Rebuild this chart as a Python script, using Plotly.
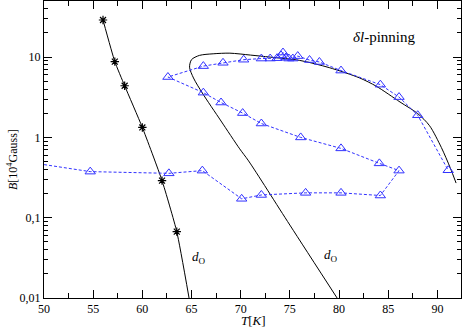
import plotly.graph_objects as go

# star series (d_O, measured) and its fitted line
star_T = [56.0, 57.2, 58.2, 60.0, 62.0, 63.5]
star_B = [29.0, 8.8, 4.4, 1.33, 0.29, 0.067]
star_line_T = [56.0, 57.2, 58.2, 60.0, 62.0, 63.5, 64.75]
star_line_B = [29.0, 8.8, 4.4, 1.33, 0.29, 0.067, 0.01]

# black loop curve (d_O)
loop_T = [79.8, 75.0, 70.8, 69.9, 68.0, 66.1, 65.2, 64.8, 65.0, 65.8, 67.2, 68.9,
          71.0, 73.0, 76.0, 79.0, 82.1, 83.8, 86.2, 88.0, 89.2, 90.4, 91.3, 91.9]
loop_B = [0.01, 0.081, 0.51, 0.72, 1.6, 3.57, 5.5, 7.5, 9.3, 10.5, 11.0, 11.2,
          10.6, 10.0, 9.1, 7.4, 5.5, 4.33, 2.76, 1.98, 1.4, 0.75, 0.42, 0.27]

# blue triangles (delta-l pinning), in path order
tri_T = [48.0, 54.7, 62.7, 66.1, 70.1, 72.1, 76.6, 80.2, 84.2, 86.1, 84.1, 80.2,
         76.1, 72.1, 70.2, 68.0, 66.2, 62.6, 66.2, 68.2, 70.3, 72.1, 73.0, 73.7,
         74.1, 74.3, 74.6, 74.9, 75.3, 75.8, 77.0, 78.0, 80.2, 84.2, 86.1, 88.0, 91.1]
tri_B = [0.5, 0.375, 0.357, 0.386, 0.172, 0.192, 0.204, 0.204, 0.189, 0.386, 0.475, 0.73,
         1.0, 1.49, 2.01, 2.72, 3.61, 5.65, 7.73, 8.5, 9.29, 9.6, 9.6, 9.7,
         10.5, 11.4, 9.9, 9.6, 9.6, 10.3, 9.2, 8.7, 6.8, 4.54, 3.18, 1.89, 0.39]

x_ticks = [50, 55, 60, 65, 70, 75, 80, 85, 90]
y_ticks = [0.01, 0.1, 1, 10]
y_ticktext = ['0,01', '0,1', '1', '10']

serif = 'Liberation Serif'
blue = 'rgb(50,50,255)'

fig = go.Figure()
fig.add_trace(go.Scatter(x=loop_T, y=loop_B, mode='lines',
                         line=dict(color='black', width=1, shape='spline', smoothing=0.8)))
fig.add_trace(go.Scatter(x=star_line_T, y=star_line_B, mode='lines',
                         line=dict(color='black', width=1, shape='spline', smoothing=0.5)))
fig.add_trace(go.Scatter(x=star_T, y=star_B, mode='markers',
                         marker=dict(symbol='asterisk-open', size=7, color='black',
                                     line=dict(color='black', width=1.2))))
fig.add_trace(go.Scatter(x=tri_T, y=tri_B, mode='lines+markers',
                         line=dict(color=blue, width=1, dash='3px,2px'),
                         marker=dict(symbol='triangle-up-open', size=9, color=blue,
                                     line=dict(color=blue, width=1))))

minor_y = [m * 10 ** e for e in range(-2, 2) for m in range(2, 10)]

fig.update_xaxes(range=[50, 92.4], tickvals=x_ticks, ticks='inside', ticklen=8,
                 tickcolor='black', showline=True, linecolor='black', linewidth=1,
                 mirror='allticks', showgrid=False, zeroline=False,
                 minor=dict(dtick=2.5, ticks='inside', ticklen=5, tickcolor='black', showgrid=False),
                 tickfont=dict(family=serif, size=12, color='black'))
fig.update_yaxes(type='log', range=[-2, 1.699], tickvals=y_ticks, ticktext=y_ticktext,
                 ticks='inside', ticklen=8, tickcolor='black', showline=True,
                 linecolor='black', linewidth=1, mirror='allticks', showgrid=False,
                 zeroline=False,
                 minor=dict(tickvals=minor_y, ticks='inside', ticklen=4, tickcolor='black', showgrid=False),
                 tickfont=dict(family=serif, size=12, color='black'))

fig.add_annotation(x=384, y=37, text='<i>δl</i>-pinning',
                   showarrow=False, font=dict(family=serif, size=15, color='black'))
fig.add_annotation(x=199, y=257, text='<i>d</i><sub>O</sub>', showarrow=False,
                   font=dict(family=serif, size=13, color='black'))
fig.add_annotation(x=331, y=255, text='<i>d</i><sub>O</sub>', showarrow=False,
                   font=dict(family=serif, size=13, color='black'))
fig.add_annotation(x=253, y=320, text='<i>T</i>[<i>K</i>]', showarrow=False,
                   font=dict(family=serif, size=13, color='black'))
fig.add_annotation(x=12, y=160, text='<i>B</i>[10<sup>4</sup>Gauss]', showarrow=False,
                   textangle=-90, font=dict(family=serif, size=12, color='black'))

# annotations above were given in pixels; convert to paper coordinates
W, H = 464, 327
L, R, T, Bm = 44, 3, 1, 29
for ann in fig.layout.annotations:
    ann.xref = 'paper'
    ann.yref = 'paper'
    ann.xanchor = 'center'
    ann.yanchor = 'middle'
    ann.x = (ann.x - L) / (W - L - R)
    ann.y = 1 - (ann.y - T) / (H - T - Bm)

fig.update_layout(width=W, height=H, showlegend=False,
                  margin=dict(l=L, r=R, t=T, b=Bm),
                  plot_bgcolor='white', paper_bgcolor='white',
                  font=dict(family=serif, color='black'))
fig.write_html('out.html', config={'displayModeBar': False},
               post_script="document.body.style.margin='0';")
